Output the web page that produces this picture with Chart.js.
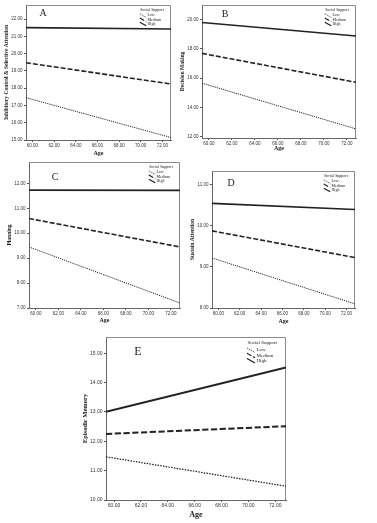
<!DOCTYPE html>
<html lang="en">
<head>
<meta charset="UTF-8">
<title>Age x Social Support interaction plots</title>
<script src="https://cdn.jsdelivr.net/npm/chart.js"></script>
<style>
  body { margin: 0; background: #fff; width: 377px; height: 523px; position: relative; overflow: hidden; }
  canvas { position: absolute; }
</style>
</head>
<body>
<canvas id="cA"></canvas>
<canvas id="cB"></canvas>
<canvas id="cC"></canvas>
<canvas id="cD"></canvas>
<canvas id="cE"></canvas>
<script>
// fitted line end points (age at both ends of the axis)
const ageEnds = [59.4, 72.8];
const ageTicks = [60, 62, 64, 66, 68, 70, 72];
const supportLevels = ['Low', 'Medium', 'High'];

const inhibitoryLow = [17.45, 15.14];
const inhibitoryMedium = [19.47, 18.24];
const inhibitoryHigh = [21.5, 21.42];
const inhibitoryTicks = [15, 16, 17, 18, 19, 20, 21, 22];

const decisionLow = [15.65, 12.52];
const decisionMedium = [17.69, 15.71];
const decisionHigh = [19.8, 18.88];
const decisionTicks = [12, 14, 16, 18, 20];

const planningLow = [9.45, 7.2];
const planningMedium = [10.59, 9.45];
const planningHigh = [11.73, 11.72];
const planningTicks = [7, 8, 9, 10, 11, 12];

const sustainLow = [9.22, 8.1];
const sustainMedium = [9.88, 9.23];
const sustainHigh = [10.55, 10.4];
const sustainTicks = [8, 9, 10, 11];

const episodicLow = [11.47, 10.47];
const episodicMedium = [12.25, 12.51];
const episodicHigh = [13.0, 14.51];
const episodicTicks = [10, 11, 12, 13, 14, 15];

// panel layout (canvas box, axis sizes, fonts)
const panels = [
  { id: 'cA', letter: 'A', yTitle: 'Inhibitory Control & Selective Attention',
    series: [inhibitoryLow, inhibitoryMedium, inhibitoryHigh], yTicks: inhibitoryTicks, yMin: 15, yMax: 22.81,
    left: 4, top: 0, w: 171, h: 156, yAxisW: 22, xAxisH: 16,
    tick: 4.5, yt: 5.5, xt: 6, letterSize: 10, letterDx: 17, letterDy: 8, leg: 4, lineScale: 1 },
  { id: 'cB', letter: 'B', yTitle: 'Decision Making',
    series: [decisionLow, decisionMedium, decisionHigh], yTicks: decisionTicks, yMin: 11.9, yMax: 21.0,
    left: 180, top: 0, w: 180, h: 151, yAxisW: 22, xAxisH: 13,
    tick: 4.5, yt: 5.5, xt: 6, letterSize: 10, letterDx: 23, letterDy: 9, leg: 4, lineScale: 1 },
  { id: 'cC', letter: 'C', yTitle: 'Planning',
    series: [planningLow, planningMedium, planningHigh], yTicks: planningTicks, yMin: 7.0, yMax: 12.86,
    left: 7, top: 157, w: 177, h: 166, yAxisW: 22, xAxisH: 15,
    tick: 4.5, yt: 5.5, xt: 6, letterSize: 10, letterDx: 26, letterDy: 15, leg: 4, lineScale: 1 },
  { id: 'cD', letter: 'D', yTitle: 'Sustain Attention',
    series: [sustainLow, sustainMedium, sustainHigh], yTicks: sustainTicks, yMin: 8.0, yMax: 11.34,
    left: 190, top: 166, w: 169, h: 158, yAxisW: 22, xAxisH: 16,
    tick: 4.5, yt: 5.5, xt: 6, letterSize: 10, letterDx: 19, letterDy: 12, leg: 4, lineScale: 1 },
  { id: 'cE', letter: 'E', yTitle: 'Episodic Memory',
    series: [episodicLow, episodicMedium, episodicHigh], yTicks: episodicTicks, yMin: 10.0, yMax: 15.55,
    left: 82, top: 332, w: 208, h: 187, yAxisW: 24, xAxisH: 19,
    tick: 5, yt: 6.5, xt: 8, letterSize: 12, letterDx: 32, letterDy: 15, leg: 5, lineScale: 1.25 }
];

const lineStyles = [
  { dash: [1.2, 1], width: 1 },
  { dash: [5, 2], width: 1.6 },
  { dash: [], width: 1.6 }
];

const decor = {
  id: 'decor',
  beforeDatasetsDraw(chart) {
    const a = chart.chartArea, ctx = chart.ctx;
    ctx.save();
    ctx.strokeStyle = '#8a8a8a';
    ctx.lineWidth = 1;
    ctx.beginPath();
    ctx.moveTo(a.left, a.top + 0.5);
    ctx.lineTo(a.right - 0.5, a.top + 0.5);
    ctx.lineTo(a.right - 0.5, a.bottom);
    ctx.stroke();
    ctx.restore();
  },
  afterDraw(chart) {
    const p = chart.options.plugins.decor.panel;
    const a = chart.chartArea, ctx = chart.ctx;
    ctx.save();
    // panel letter
    ctx.fillStyle = '#222';
    ctx.font = p.letterSize + 'px "Liberation Serif"';
    ctx.textAlign = 'center';
    ctx.textBaseline = 'middle';
    ctx.fillText(p.letter, a.left + p.letterDx, a.top + p.letterDy);
    // legend
    const s = p.leg;
    ctx.font = s + 'px "Liberation Serif"';
    ctx.textAlign = 'right';
    ctx.fillText('Social Support', a.right - 1.8 * s, a.top + 1.2 * s);
    const x0 = a.right - 7.8 * s;
    supportLevels.forEach((lab, i) => {
      const y = a.top + (2.6 + i * 1.05) * s;
      const st = lineStyles[i];
      ctx.strokeStyle = '#222';
      ctx.lineWidth = st.width * 0.8;
      ctx.setLineDash(st.dash);
      ctx.beginPath();
      ctx.moveTo(x0, y - 0.4 * s);
      ctx.lineTo(x0 + 1.6 * s, y + 0.5 * s);
      ctx.stroke();
      ctx.setLineDash([]);
      ctx.textAlign = 'left';
      ctx.fillText(lab, x0 + 1.9 * s, y);
    });
    ctx.restore();
  }
};

panels.forEach(p => {
  const cv = document.getElementById(p.id);
  cv.width = p.w;
  cv.height = p.h;
  cv.style.left = p.left + 'px';
  cv.style.top = p.top + 'px';
  p.lineScale = p.lineScale || 1;

  const datasets = p.series.map((vals, i) => ({
    label: supportLevels[i],
    data: ageEnds.map((x, k) => ({ x: x, y: vals[k] })),
    borderColor: '#222',
    borderWidth: lineStyles[i].width * p.lineScale,
    borderDash: lineStyles[i].dash.map(d => d * p.lineScale),
    pointRadius: 0,
    fill: false,
    tension: 0
  }));

  new Chart(cv.getContext('2d'), {
    type: 'line',
    data: { datasets: datasets },
    plugins: [decor],
    options: {
      responsive: false,
      animation: false,
      devicePixelRatio: 1,
      layout: { padding: { top: 5, right: 4, left: 0, bottom: 0 } },
      plugins: {
        legend: { display: false },
        tooltip: { enabled: false },
        decor: { panel: p }
      },
      scales: {
        x: {
          type: 'linear',
          min: ageEnds[0],
          max: ageEnds[1],
          afterBuildTicks: s => { s.ticks = ageTicks.map(v => ({ value: v })); },
          afterFit: s => { s.height = p.xAxisH; },
          ticks: {
            autoSkip: false, maxRotation: 0, padding: 1, color: '#333',
            font: { family: 'Liberation Sans', size: p.tick },
            callback: v => Number(v).toFixed(2)
          },
          grid: { drawOnChartArea: false, tickLength: 2, color: '#555' },
          border: { color: '#666' },
          title: {
            display: true, text: 'Age', color: '#222', padding: 0,
            font: { family: 'Liberation Serif', size: p.xt, weight: 'bold', lineHeight: 1 }
          }
        },
        y: {
          type: 'linear',
          min: p.yMin,
          max: p.yMax,
          afterBuildTicks: s => { s.ticks = p.yTicks.map(v => ({ value: v })); },
          afterFit: s => { s.width = p.yAxisW; },
          ticks: {
            autoSkip: false, padding: 1.5, color: '#333',
            font: { family: 'Liberation Sans', size: p.tick },
            callback: v => Number(v).toFixed(2)
          },
          grid: { drawOnChartArea: false, tickLength: 2, color: '#555' },
          border: { color: '#666' },
          title: {
            display: true, text: p.yTitle, color: '#222', padding: 0,
            font: { family: 'Liberation Serif', size: p.yt, weight: 'bold', lineHeight: 1 }
          }
        }
      }
    }
  });
});
</script>
</body>
</html>
